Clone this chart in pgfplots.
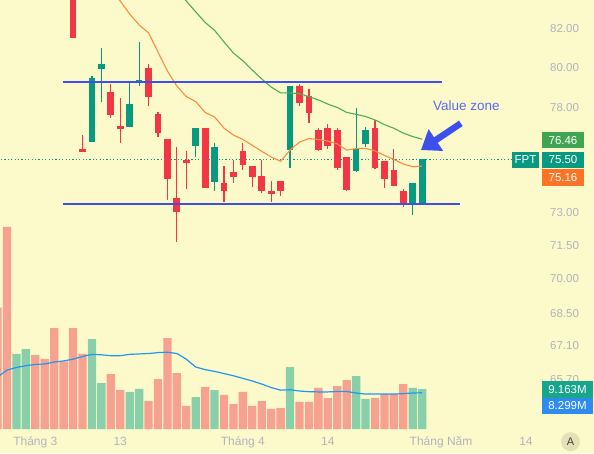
\documentclass[border=0pt]{standalone}
\usepackage{pgfplots}
\pgfplotsset{compat=1.18}
\usepackage{fontspec}
\setmainfont{Liberation Sans}
\usetikzlibrary{arrows.meta}
\definecolor{bg}{HTML}{FCFACA}
\definecolor{cred}{HTML}{F23645}
\definecolor{cgreen}{HTML}{089981}
\definecolor{vred}{HTML}{F7A291}
\definecolor{vgreen}{HTML}{88CFAA}
\definecolor{maorange}{HTML}{FF8A3D}
\definecolor{magreen}{HTML}{4CAF50}
\definecolor{vblue}{HTML}{2196F3}
\definecolor{lineblue}{HTML}{3D50EE}
\definecolor{ticklbl}{HTML}{B2B4BC}
\definecolor{taggreen}{HTML}{3FA552}
\definecolor{tagteal}{HTML}{089981}
\definecolor{tagorange}{HTML}{FB7325}
\definecolor{tagvteal}{HTML}{17A68C}
\definecolor{tagblue}{HTML}{2E8BF0}
\newcommand{\tagfont}{\fontsize{11.5}{13}\selectfont}
\begin{document}
\begin{tikzpicture}
\useasboundingbox (0,0) rectangle (594pt,453pt);
\fill[bg] (0,0) rectangle (594pt,453pt);

% ---------- volume pane ----------
\begin{axis}[at={(0pt,24pt)}, anchor=south west, scale only axis,
  width=542pt, height=429pt, xmin=-0.742, xmax=56.7, ymin=0, ymax=98.3,
  hide axis, clip=true]
\addplot[ybar, bar width=0.88, bar shift=0pt, fill=vred, draw=none] coordinates {
(-1,27.8)(0,46.3)(3,16.95)(4,16.0)(5,23.1)(6,15.5)(7,23.1)(8,17.2)(11,12.6)(12,8.9)
(15,6.4)(16,11.45)(17,20.8)(18,12.8)(19,5.3)(21,9.6)(23,7.8)(24,5.7)(25,8.5)(26,5.3)
(27,6.4)(28,4.6)(29,4.8)(31,6.2)(32,6.2)(33,9.4)(34,7.1)(35,9.85)(36,11.2)(39,7.1)
(40,8.0)(41,8.0)(42,10.3)};
\addplot[ybar, bar width=0.88, bar shift=0pt, fill=vgreen, draw=none] coordinates {
(1,17.2)(2,18.3)(9,20.6)(10,10.5)(13,8.5)(14,9.2)(20,7.3)(22,8.9)(30,14.2)(37,12.1)
(38,6.9)(43,9.4)(44,9.163)};
\addplot[vblue, line width=1.2pt] coordinates {
(-1,11.9)(0,13.5)(1,14.1)(2,14.5)(3,14.8)(4,14.9)(5,15.35)(6,15.6)(7,16.0)(8,16.6)
(9,17.1)(10,17.0)(11,16.8)(12,16.8)(13,17.1)(14,17.2)(15,17.3)(16,17.5)(17,17.6)
(18,17.3)(19,16.0)(20,14.2)(21,13.6)(22,13.2)(23,12.7)(24,12.2)(25,11.6)(26,11.0)
(27,10.3)(28,9.5)(29,8.9)(30,9.0)(31,8.7)(32,8.55)(33,8.5)(34,8.5)(35,8.6)(36,8.6)
(37,8.25)(38,8.0)(39,8.0)(40,8.0)(41,8.0)(42,8.1)(43,8.25)(44,8.3)};
\end{axis}

% ---------- price pane ----------
\begin{axis}[at={(0pt,24pt)}, anchor=south west, scale only axis,
  width=542pt, height=429pt, xmin=-0.742, xmax=56.7,
  ymode=log, ymin=63.67, ymax=83.48,
  axis line style={draw=none}, major tick length=0pt, minor tick length=0pt,
  ytick={65.7,67.1,68.5,70,71.5,73,78,80,82},
  yticklabels={65.70,67.10,68.50,70.00,71.50,73.00,78.00,80.00,82.00},
  yticklabel pos=right,
  yticklabel style={anchor=west, inner sep=0pt, xshift=8pt, font=\tagfont, text=ticklbl},
  xtick={3,12,25,34,46,55},
  xticklabels={Tháng 3,13,Tháng 4,14,Tháng Năm,14},
  xticklabel style={anchor=base, inner sep=0pt, yshift=-17pt, font=\fontsize{12}{14}\selectfont, text=ticklbl},
  unbounded coords=jump, clip=true]
% last price dotted line
\addplot[cgreen, line width=1.2pt, dash pattern=on 1.2pt off 2.2pt] coordinates {(-1,75.5)(57,75.5)};
% red wicks
\addplot[cred, line width=1.2pt, unbounded coords=jump] coordinates {
(7,81.52)(7,87)(7,nan)(8,75.86)(8,76.66)(8,nan)(11,77.50)(11,79.17)(11,nan)
(12,76.29)(12,78.49)(12,nan)(15,78.08)(15,80.17)(15,nan)(16,76.58)(16,77.78)(16,nan)
(17,73.58)(17,76.47)(17,nan)(18,71.63)(18,76.08)(18,nan)(19,74.09)(19,75.89)(19,nan)
(21,74.15)(21,77.00)(21,nan)(23,73.50)(23,75.18)(23,nan)(24,74.39)(24,75.46)(24,nan)
(25,75.00)(25,76.29)(25,nan)(26,74.20)(26,75.18)(26,nan)(27,73.92)(27,75.45)(27,nan)
(28,73.50)(28,74.47)(28,nan)(29,73.78)(29,74.47)(29,nan)(31,78.08)(31,79.17)(31,nan)
(32,77.26)(32,78.95)(32,nan)(33,75.91)(33,76.99)(33,nan)(34,75.99)(34,77.19)(34,nan)
(35,74.99)(35,76.99)(35,nan)(36,74.00)(36,75.62)(36,nan)(39,75.04)(39,77.39)(39,nan)
(40,74.13)(40,75.43)(40,nan)(41,74.25)(41,75.97)(41,nan)(42,73.24)(42,74.09)(42,nan)};
% red bodies
\addplot[cred, line width=6.7pt, unbounded coords=jump] coordinates {
(7,86)(7,81.52)(7,nan)(8,75.99)(8,75.86)(8,nan)(11,78.77)(11,77.64)(11,nan)
(12,77.10)(12,76.97)(12,nan)(15,79.97)(15,78.54)(15,nan)(16,77.68)(16,76.77)(16,nan)
(17,76.47)(17,74.58)(17,nan)(18,73.67)(18,73.04)(18,nan)(19,75.46)(19,75.33)(19,nan)
(21,77.00)(21,74.15)(21,nan)(23,74.37)(23,73.97)(23,nan)(24,74.89)(24,74.67)(24,nan)
(25,75.89)(25,75.24)(25,nan)(26,75.18)(26,74.67)(26,nan)(27,74.70)(27,73.97)(27,nan)
(28,74.00)(28,73.87)(28,nan)(29,74.47)(29,73.97)(29,nan)(31,79.07)(31,78.24)(31,nan)
(32,78.57)(32,77.72)(32,nan)(33,76.90)(33,75.95)(33,nan)(34,76.99)(34,76.13)(34,nan)
(35,76.90)(35,75.07)(35,nan)(36,75.62)(36,74.05)(36,nan)(39,76.99)(39,75.07)(39,nan)
(40,75.43)(40,74.56)(40,nan)(41,74.99)(41,74.25)(41,nan)(42,74.00)(42,73.43)(42,nan)};
% green wicks
\addplot[cgreen, line width=1.2pt, unbounded coords=jump] coordinates {
(9,76.34)(9,79.57)(9,nan)(10,78.29)(10,80.97)(10,nan)(13,77.06)(13,79.23)(13,nan)
(14,79.08)(14,81.29)(14,nan)(20,75.62)(20,77.00)(20,nan)(22,74.00)(22,76.26)(22,nan)
(30,75.10)(30,79.07)(30,nan)(37,74.91)(37,77.96)(37,nan)(38,76.07)(38,77.02)(38,nan)
(43,72.89)(43,74.37)(43,nan)(44,73.43)(44,75.50)(44,nan)};
% green bodies
\addplot[cgreen, line width=6.7pt, unbounded coords=jump] coordinates {
(9,76.34)(9,79.45)(9,nan)(10,79.94)(10,80.17)(10,nan)(13,77.06)(13,78.18)(13,nan)
(14,79.27)(14,79.37)(14,nan)(20,76.15)(20,77.00)(20,nan)(22,74.44)(22,76.08)(22,nan)
(30,75.95)(30,79.07)(30,nan)(37,74.95)(37,75.99)(37,nan)(38,76.23)(38,76.90)(38,nan)
(43,73.43)(43,74.37)(43,nan)(44,73.43)(44,75.50)(44,nan)};
% moving averages
\addplot[maorange, line width=1.1pt] coordinates {
(11,84.0)(12,83.42)(13,82.74)(14,82.17)(15,81.76)(16,80.78)(17,79.82)(18,79.07)
(19,78.55)(20,78.30)(21,77.76)(22,77.54)(23,77.00)(24,76.66)(25,76.45)(26,76.16)
(27,75.87)(28,75.60)(29,75.39)(30,75.94)(31,76.32)(32,76.49)(33,76.44)(34,76.37)
(35,76.23)(36,75.94)(37,76.01)(38,76.02)(39,75.89)(40,75.68)(41,75.49)(42,75.27)
(43,75.14)(44,75.16)};
\addplot[magreen, line width=1.1pt] coordinates {
(18,84.00)(19,83.42)(20,82.85)(21,82.30)(22,81.89)(23,81.29)(24,80.72)(25,80.33)
(26,79.87)(27,79.42)(28,79.02)(29,78.73)(30,78.73)(31,78.69)(32,78.55)(33,78.37)
(34,78.18)(35,78.00)(36,77.76)(37,77.66)(38,77.56)(39,77.39)(40,77.17)(41,76.99)
(42,76.76)(43,76.59)(44,76.46)};
% drawn horizontal lines
\addplot[lineblue, line width=1.8pt] coordinates {(5.91,79.28)(46.1,79.28)};
\addplot[lineblue, line width=1.8pt] coordinates {(5.91,73.41)(48.04,73.41)};
% arrow annotation
\draw[lineblue, line width=6.5pt, -{Triangle[length=18pt,width=25pt]}]
  (axis cs:48.1,77.23) -- (axis cs:43.87,75.94);
\end{axis}

% text annotation
\node[anchor=base west, inner sep=0pt, text=lineblue!85!white, font=\fontsize{13.5}{15}\selectfont] at (433pt,342pt) {Value zone};

% price tags
\fill[taggreen] (542pt,304.7pt) rectangle (584pt,320.7pt);
\node[text=white, font=\tagfont] at (563pt,312.7pt) {76.46};
\fill[tagteal] (511.7pt,284.7pt) rectangle (539.3pt,301.3pt);
\node[text=white, font=\tagfont] at (525.5pt,293pt) {FPT};
\fill[tagteal] (542pt,284.7pt) rectangle (584pt,301.3pt);
\node[text=white, font=\tagfont] at (563pt,293pt) {75.50};
\fill[tagorange] (542pt,267.3pt) rectangle (584pt,284pt);
\node[text=white, font=\tagfont] at (563pt,275.6pt) {75.16};
\fill[tagvteal] (542pt,55.3pt) rectangle (593pt,72pt);
\node[text=white, font=\tagfont] at (567.5pt,63.6pt) {9.163M};
\fill[tagblue] (542pt,38.7pt) rectangle (593pt,55.3pt);
\node[text=white, font=\tagfont] at (567.5pt,47pt) {8.299M};
% auto-scale button
\fill[black!10!bg] (570.5pt,11.3pt) circle (9.5pt);
\node[text=black!75, font=\fontsize{11}{13}\selectfont] at (570.5pt,11.3pt) {A};
\end{tikzpicture}
\end{document}
